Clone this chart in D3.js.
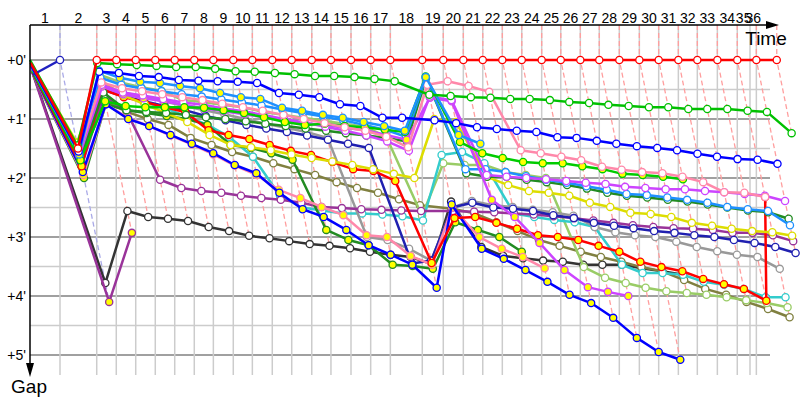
<!DOCTYPE html>
<html><head><meta charset="utf-8">
<script src="https://cdn.jsdelivr.net/npm/d3@7"></script>
<style>body{margin:0;background:#fff;} svg{font-family:"Liberation Sans",Arial,sans-serif;}</style>
</head><body><svg id="c" width="800" height="400"></svg>
<script>
// leader crossing times (minutes) for lap 0..36
const leaderTimes = [0, 2.5, 5.56, 7.19, 8.81, 10.44, 12.06, 13.69, 15.28, 16.94, 18.53, 20.19, 21.81, 23.48, 25.08, 26.75, 28.39, 30.03, 32.69, 34.44, 36.11, 37.73, 39.36, 40.98, 42.64, 44.23, 45.86, 47.44, 49.11, 50.78, 52.39, 54.03, 55.61, 57.28, 58.94, 60.53, 62.23];
const raceEnd = 60;
const lapLabels = d3.range(1, 37).map(String);
const gapTicks = [0, 1, 2, 3, 4, 5];
const gapTickLabels = ["+0'", "+1'", "+2'", "+3'", "+4'", "+5'"];
const lapLeaderColor = [null, "#2020c0"].concat(d3.range(35).map(() => "#ff0000"));

// gaps in minutes per lap (index = lap 0..)
const gapLap1Leader = [0.25, 0];
const gapRed = [0.05, 1.5].concat(d3.range(35).map(() => 0));
const gapGreen = [0.0, 1.45, 0.05, 0.07, 0.085, 0.1, 0.12, 0.12, 0.15, 0.19, 0.2, 0.22, 0.24, 0.27, 0.27, 0.29, 0.32, 0.36, 0.59, 0.61, 0.63, 0.64, 0.66, 0.66, 0.68, 0.71, 0.73, 0.76, 0.78, 0.80, 0.80, 0.83, 0.83, 0.83, 0.86, 0.88, 1.24];
const gapBlue = [0.1, 1.55, 0.2, 0.22, 0.27, 0.29, 0.34, 0.35, 0.36, 0.37, 0.39, 0.56, 0.59, 0.63, 0.75, 0.78, 0.98, 0.98, 1.02, 1.07, 1.14, 1.17, 1.2, 1.22, 1.31, 1.32, 1.37, 1.42, 1.46, 1.49, 1.53, 1.59, 1.64, 1.68, 1.69, 1.76];
const gapLightBlueY = [0.12, 1.6, 0.18, 0.3, 0.37, 0.39, 0.44, 0.48, 0.56, 0.63, 0.66, 0.81, 0.86, 0.93, 0.98, 1.05, 1.12, 1.2, 0.29, 1.27, 1.42];
const gapLightBlue = [0.08, 1.5, 0.3, 0.42, 0.48, 0.53, 0.58, 0.62, 0.67, 0.72, 0.77, 0.84, 0.9, 0.96, 1.02, 1.1, 1.18, 1.3, 0.3, 1.85, 1.85, 1.9, 1.97, 2.03, 2.08, 2.14, 2.2, 2.27, 2.29, 2.33, 2.37, 2.42, 2.49, 2.53, 2.56, 2.8];
const gapDarkGreen = [0.15, 1.65, 0.55, 0.85, 0.88, 0.9, 0.93, 0.97, 1.0, 1.04, 1.08, 1.12, 1.16, 1.2, 1.24, 1.28, 1.32, 1.38, 0.31, 1.92, 1.98, 1.98, 2.03, 2.07, 2.12, 2.18, 2.25, 2.3, 2.33, 2.37, 2.4, 2.45, 2.5, 2.55, 2.58, 2.69];
const gapViolet = [0.12, 1.6, 0.42, 0.55, 0.6, 0.66, 0.72, 0.76, 0.82, 0.87, 0.93, 1.0, 1.06, 1.13, 1.2, 1.28, 1.38, 1.54, 0.62, 0.68, 1.95, 1.98, 2.0, 2.02, 2.05, 2.08, 2.1, 2.15, 2.17, 2.19, 2.19, 2.22, 2.24, 2.27, 2.3, 2.39];
const gapVioletY = [0.14, 1.62, 0.45, 0.58, 0.65, 0.7, 0.76, 0.82, 0.87, 0.92, 0.97, 1.02, 1.07, 1.1, 1.15, 1.19, 1.27, 1.35, 0.64, 0.7, 2.37, 2.66, 3.1, 3.56, 3.85, 3.93, 4.0];
const gapPink = [0.1, 1.58, 0.38, 0.48, 0.53, 0.58, 0.63, 0.68, 0.74, 0.8, 0.86, 0.93, 1.0, 1.07, 1.14, 1.2, 1.3, 1.48, 0.42, 0.36, 0.44, 0.54, 1.53, 1.58, 1.64, 1.7, 1.81, 1.86, 1.9, 1.92, 1.98, 2.07, 2.24, 2.25, 2.32];
const gapGreenY = [0.18, 1.7, 0.7, 0.78, 0.8, 0.8, 0.8, 0.81, 0.85, 0.9, 0.97, 1.05, 1.1, 1.08, 1.12, 1.14, 1.18, 1.22, 0.28, 1.39, 1.58, 1.66, 1.73, 1.75, 1.75, 1.8, 1.85, 1.93, 1.95, 1.98, 2.02];
const gapYellowGreen = [0.12, 1.55, 0.25, 0.38, 0.46, 0.52, 0.68, 0.71, 0.76, 0.8, 0.88, 0.93, 0.98, 1.03, 1.08, 1.13, 1.3, 2.64, 1.75, 1.78, 1.78, 1.9, 1.95, 2.0, 3.51, 3.69, 3.78, 3.86, 3.92, 3.95, 3.98, 4.02, 4.07, 4.12, 4.19];
const gapYellow = [0.04, 1.4, 0.35, 0.6, 0.75, 0.9, 1.05, 1.27, 1.44, 1.48, 1.53, 1.6, 1.66, 1.72, 1.78, 1.85, 1.93, 2.0, 1.0, 1.05, 1.98, 2.12, 2.22, 2.25, 2.3, 2.42, 2.49, 2.59, 2.61, 2.66, 2.76, 2.81, 2.86, 2.9, 2.92, 2.98];
const gapNavy = [0.2, 1.75, 0.5, 0.62, 0.7, 0.78, 0.85, 0.95, 1.02, 1.1, 1.16, 1.22, 1.28, 1.35, 1.42, 1.49, 3.45, 3.4, 2.5, 2.42, 2.5, 2.52, 2.56, 2.63, 2.68, 2.76, 2.81, 2.85, 2.9, 2.93, 2.97, 3.0, 3.05, 3.1, 3.17, 3.27];
const gapGray = [0.16, 1.68, 0.45, 0.55, 0.62, 0.7, 0.78, 0.85, 0.92, 1.0, 1.08, 1.15, 1.22, 1.32, 3.0, 3.05, 3.2, 3.4, 2.5, 2.39, 2.46, 2.49, 2.54, 2.58, 2.64, 2.83, 2.92, 2.97, 3.0, 3.08, 3.17, 3.24, 3.3, 3.34, 3.54];
const gapCyan = [0.18, 1.72, 0.4, 0.6, 0.72, 0.82, 0.95, 1.1, 1.3, 1.64, 2.3, 2.5, 2.55, 2.6, 2.6, 2.62, 2.65, 2.72, 1.61, 1.56, 1.75, 2.6, 2.66, 2.71, 2.75, 2.83, 3.47, 3.61, 3.61, 3.64, 3.76, 3.81, 3.88, 4.02, 4.02];
const gapRedY = [0.2, 1.8, 0.5, 0.63, 0.71, 0.8, 0.88, 1.19, 1.27, 1.34, 1.44, 1.54, 1.61, 1.73, 1.85, 1.88, 2.05, 3.44, 2.68, 2.66, 2.76, 2.86, 2.97, 3.0, 3.05, 3.15, 3.25, 3.42, 3.51, 3.58, 3.71, 3.8, 3.88, 4.08, 2.32];
const gapOlive = [0.15, 1.7, 0.7, 0.88, 1.0, 1.1, 1.32, 1.44, 1.56, 1.64, 1.75, 1.85, 1.95, 2.07, 2.17, 2.25, 2.36, 2.46, 2.52, 2.6, 2.75, 2.9, 3.05, 3.15, 3.25, 3.34, 3.42, 3.51, 3.58, 3.73, 3.88, 3.98, 4.1, 4.22, 4.36];
const gapBlack = [0.2, 3.78, 2.56, 2.66, 2.69, 2.73, 2.83, 2.9, 2.98, 3.02, 3.07, 3.12, 3.15, 3.19, 3.25, 3.3, 3.34, 3.46, 2.4, 3.17, 3.32, 3.36, 3.4, 3.42, 3.47, 3.47, 3.47, 3.53, 3.58, 3.64];
const gapBlueY = [0.22, 1.9, 0.75, 1.0, 1.12, 1.27, 1.42, 1.58, 1.78, 1.92, 2.25, 2.53, 2.66, 2.88, 3.14, 3.3, 3.47, 3.86, 2.45, 3.2, 3.37, 3.56, 3.76, 3.98, 4.12, 4.37, 4.71, 4.95, 5.08];
const gapPinkY = [0.24, 1.95, 0.75, 0.98, 1.12, 1.28, 1.43, 1.6, 1.79, 1.95, 2.2, 2.34, 2.49, 2.63, 2.97, 3.0, 3.32, 3.47, 2.5, 3.0, 3.2, 3.34, 3.53];
const gapDarkGreenY = [0.25, 2.0, 0.75, 0.85, 0.9, 0.95, 1.0, 1.1, 1.44, 1.49, 1.58, 1.69, 2.88, 3.05, 3.14, 3.47, 3.49, 3.54, 2.75, 2.88, 3.0, 3.25];
const gapPurple = [0.2, 1.8, 0.6, 0.88, 2.03, 2.17, 2.22, 2.25, 2.3, 2.34, 2.37, 2.42, 2.49, 2.51, 2.53, 2.54, 2.55, 2.56, 2.56, 2.57, 2.58, 2.6, 2.62, 2.65, 2.68, 2.72, 2.76, 2.8, 2.83, 2.85, 2.86, 2.88, 2.93, 2.93, 2.97, 3.07];
const gapPurpleOut = [0.22, 4.1, 2.93];

const series = [
  {c: "#333333", f: "#fff", g: gapBlack},
  {c: "#993399", f: "#ffff00", g: gapPurpleOut},
  {c: "#808040", f: "#fff", g: gapOlive},
  {c: "#99cc66", f: "#fff", g: gapYellowGreen},
  {c: "#33cccc", f: "#fff", g: gapCyan},
  {c: "#999999", f: "#fff", g: gapGray},
  {c: "#993399", f: "#fff", g: gapPurple},
  {c: "#2020b0", f: "#fff", g: gapNavy},
  {c: "#228b22", f: "#ffff00", g: gapDarkGreenY},
  {c: "#ff88aa", f: "#ffff00", g: gapPinkY},
  {c: "#0000ff", f: "#ffff00", g: gapBlueY},
  {c: "#ff0000", f: "#ffff00", g: gapRedY},
  {c: "#dddd00", f: "#fff", g: gapYellow},
  {c: "#228b22", f: "#fff", g: gapDarkGreen},
  {c: "#1e90ff", f: "#fff", g: gapLightBlue},
  {c: "#cc44ff", f: "#ffff00", g: gapVioletY},
  {c: "#cc44ff", f: "#fff", g: gapViolet},
  {c: "#00cc00", f: "#ffff00", g: gapGreenY},
  {c: "#ff88aa", f: "#fff", g: gapPink},
  {c: "#1e90ff", f: "#ffff00", g: gapLightBlueY},
  {c: "#0000ff", f: "#fff", g: gapBlue},
  {c: "#00c000", f: "#fff", g: gapGreen},
  {c: "#2020c0", f: "#fff", g: gapLap1Leader},
  {c: "#ff0000", f: "#fff", g: gapRed}
];

const svg = d3.select("#c");
const x = d3.scaleLinear().domain([0, 62.5]).range([30, 780]);
const y = d3.scaleLinear().domain([0, 5]).range([60, 355]);
const topY = 25, bottomY = 375, gridRight = 770;

// lap boundaries used for vertical grid and lap labels
const lapBounds = leaderTimes.slice(0, 36).concat([raceEnd]).sort((a, b) => a - b);

// horizontal grid
const halfTicks = d3.range(0.5, 5.5, 1);
svg.append("g").selectAll("line").data(halfTicks).join("line")
  .attr("x1", x(0)).attr("x2", gridRight).attr("y1", d => y(d)).attr("y2", d => y(d))
  .attr("stroke", "#cccccc").attr("stroke-width", 1.5);
svg.append("g").selectAll("line").data(gapTicks).join("line")
  .attr("x1", x(0)).attr("x2", gridRight).attr("y1", d => y(d)).attr("y2", d => y(d))
  .attr("stroke", "#808080").attr("stroke-width", 1.5);
// vertical grid
svg.append("g").selectAll("line").data(lapBounds.slice(1)).join("line")
  .attr("x1", d => x(d)).attr("x2", d => x(d)).attr("y1", topY).attr("y2", bottomY)
  .attr("stroke", "#cccccc").attr("stroke-width", 1.5);

// lap lines (dashed)
const allSeries = series.map(s => s.g);
svg.append("g").selectAll("path").data(leaderTimes.map((t, i) => i).slice(1)).join("path")
  .attr("d", i => {
    const gm = d3.max(allSeries, g => g[i] == null ? 0 : g[i]);
    return `M${x(leaderTimes[i])},${topY}L${x(leaderTimes[i])},${y(0)}L${x(leaderTimes[i] + gm)},${y(gm)}`;
  })
  .attr("fill", "none").attr("stroke", i => d3.interpolateRgb(lapLeaderColor[i], "#fff")(0.62))
  .attr("stroke-width", 1.3).attr("stroke-dasharray", "5,3");

// series
const line = d3.line().defined(d => d.g != null).x(d => x(leaderTimes[d.i] + d.g)).y(d => y(d.g));
series.forEach(s => {
  const pts = s.g.map((g, i) => ({i, g}));
  svg.append("path").attr("d", line(pts)).attr("fill", "none").attr("stroke", s.c)
    .attr("stroke-width", 2.5).attr("stroke-linejoin", "round");
  svg.append("g").selectAll("circle").data(pts.filter(d => d.g != null && d.i > 0)).join("circle")
    .attr("cx", d => x(leaderTimes[d.i] + d.g)).attr("cy", d => y(d.g)).attr("r", 3.6)
    .attr("fill", s.f).attr("stroke", s.c).attr("stroke-width", 1.3);
});

// axes
svg.append("line").attr("x1", x(0)).attr("x2", 770).attr("y1", topY).attr("y2", topY).attr("stroke", "#000").attr("stroke-width", 1.5);
svg.append("path").attr("d", `M766,${topY - 4}L779,${topY}L766,${topY + 4}Z`).attr("fill", "#000");
svg.append("line").attr("x1", x(0)).attr("x2", x(0)).attr("y1", topY).attr("y2", 366).attr("stroke", "#000").attr("stroke-width", 1.5);
svg.append("path").attr("d", `M${x(0) - 4},363L${x(0)},377L${x(0) + 4},363Z`).attr("fill", "#000");

svg.append("g").selectAll("text").data(lapLabels).join("text")
  .attr("x", (d, i) => (x(lapBounds[i]) + x(lapBounds[i + 1])) / 2).attr("y", 23)
  .attr("text-anchor", "middle").attr("font-size", 14).text(d => d);
svg.append("g").selectAll("text").data(gapTicks).join("text")
  .attr("x", 26).attr("y", d => y(d) + 5).attr("text-anchor", "end").attr("font-size", 14)
  .text((d, i) => gapTickLabels[i]);
svg.append("text").attr("x", 766).attr("y", 45).attr("text-anchor", "middle").attr("font-size", 19).text("Time");
svg.append("text").attr("x", 29).attr("y", 393).attr("text-anchor", "middle").attr("font-size", 19).text("Gap");
</script></body></html>
